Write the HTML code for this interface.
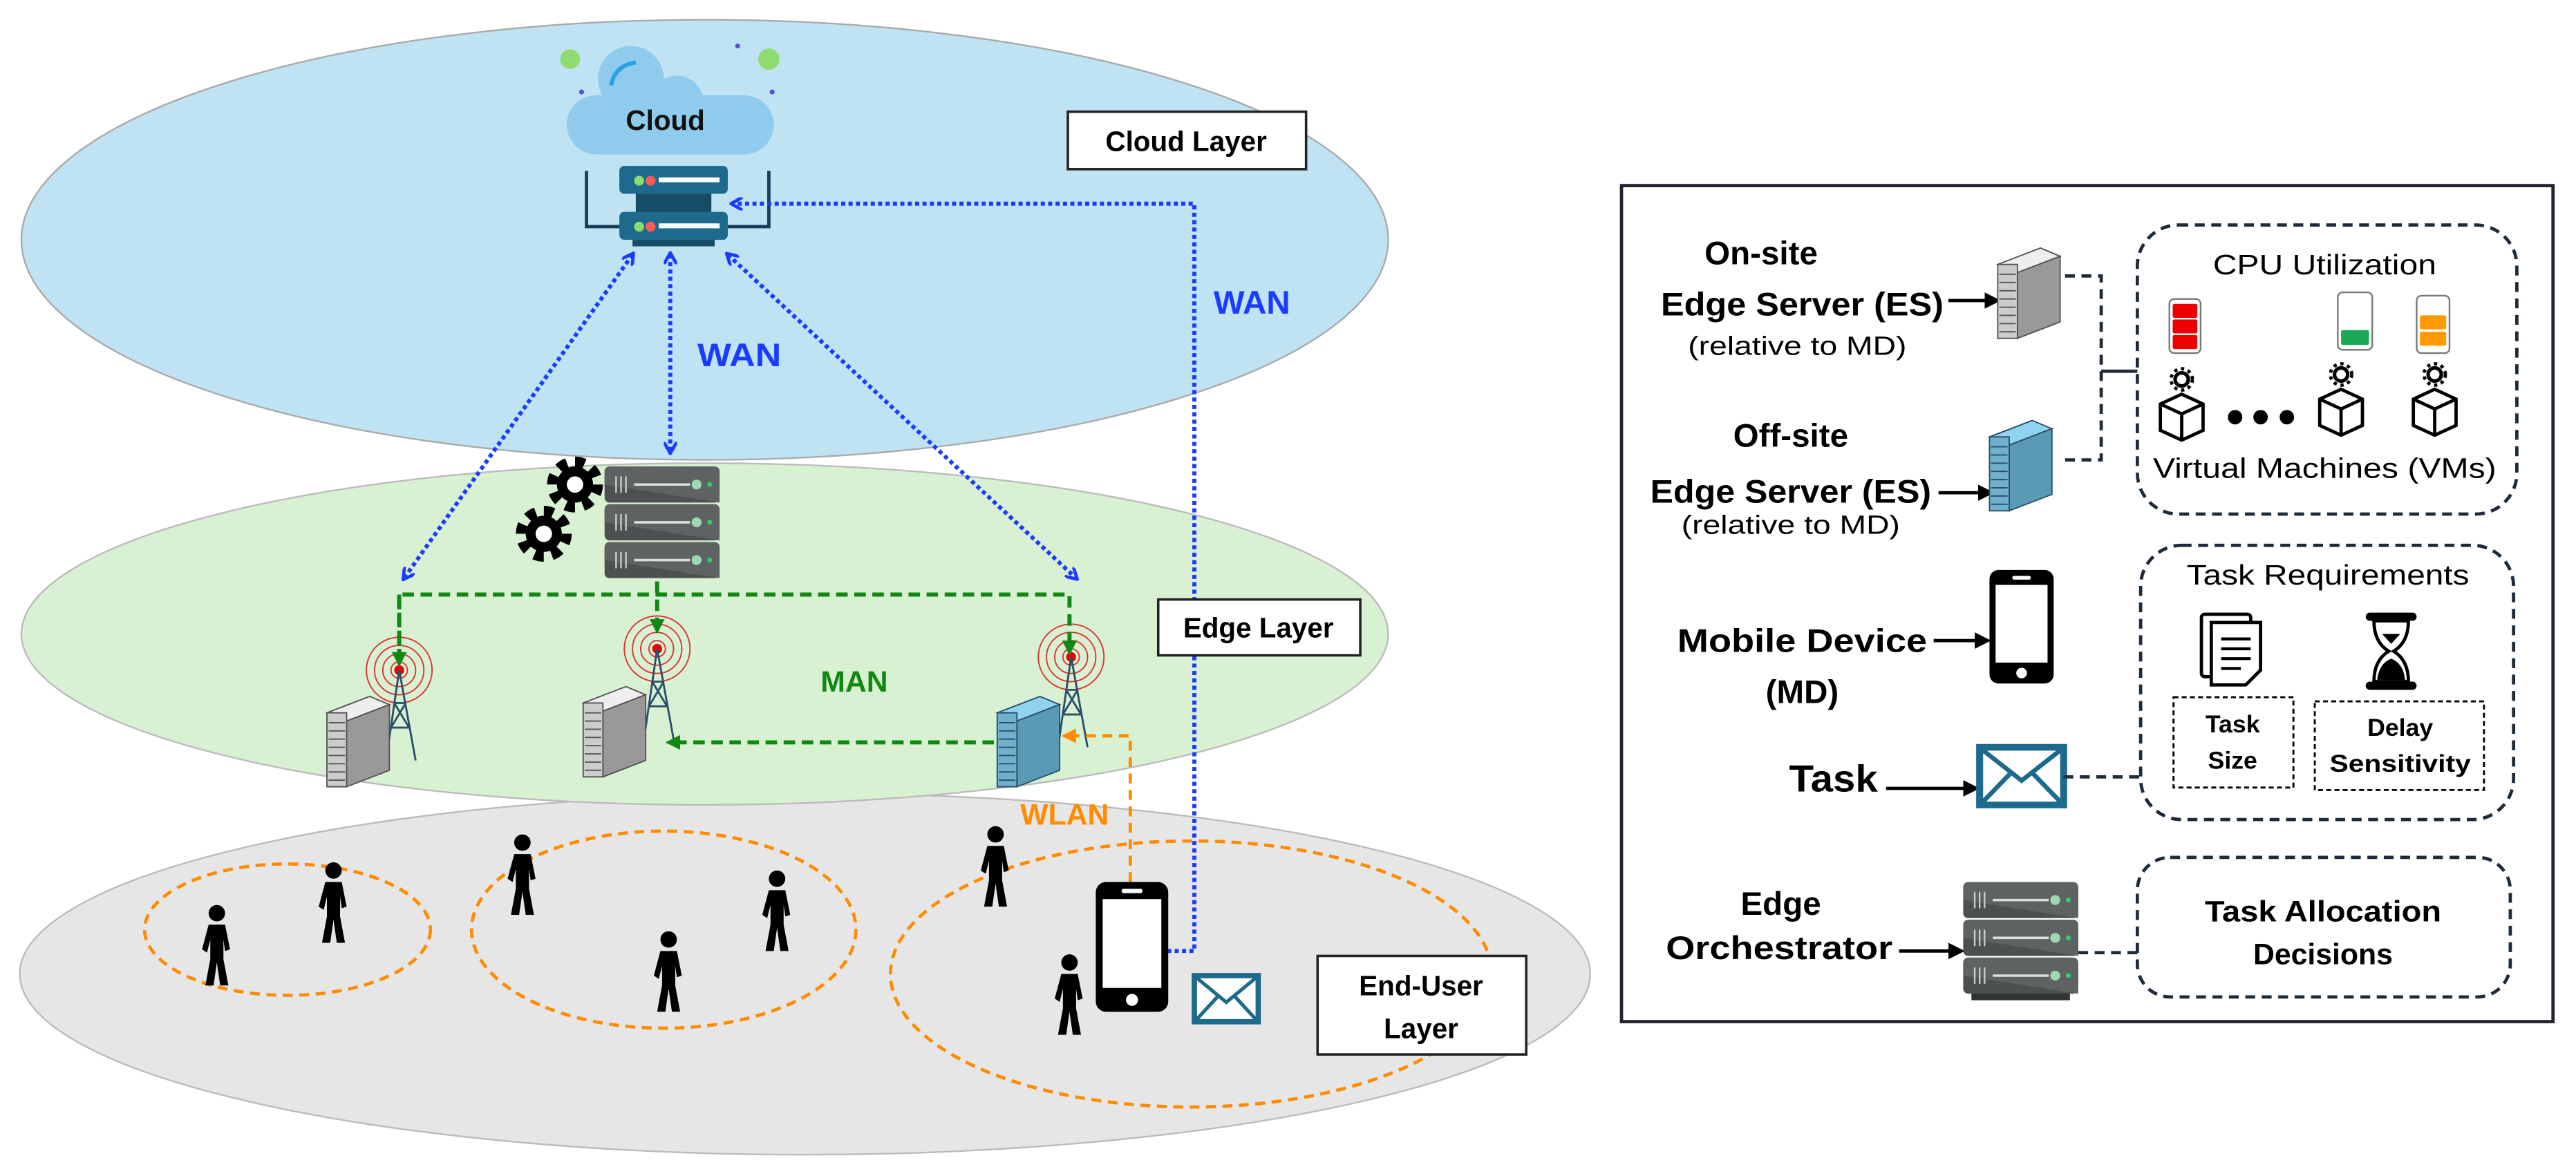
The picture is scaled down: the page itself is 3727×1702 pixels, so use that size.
<!DOCTYPE html>
<html><head><meta charset="utf-8"><style>
html,body{margin:0;padding:0;background:#fff;}
svg{display:block;}
text{font-family:"Liberation Sans",sans-serif;}
</style></head><body>
<svg width="3727" height="1702" viewBox="0 0 1568 716" preserveAspectRatio="none" xmlns="http://www.w3.org/2000/svg">
<defs>
<marker id="ab" markerWidth="8" markerHeight="8" refX="6" refY="4" orient="auto-start-reverse" markerUnits="userSpaceOnUse"><path d="M0,0 L7,4 L0,8" fill="none" stroke="#1a3cff" stroke-width="2"/></marker>
<marker id="ag" markerWidth="9" markerHeight="9" refX="7" refY="4.5" orient="auto" markerUnits="userSpaceOnUse"><path d="M0,0 L9,4.5 L0,9z" fill="#118811"/></marker>
<marker id="ao" markerWidth="9" markerHeight="9" refX="7" refY="4.5" orient="auto" markerUnits="userSpaceOnUse"><path d="M0,0 L9,4.5 L0,9z" fill="#ff8c00"/></marker>
<marker id="ak" markerWidth="10" markerHeight="10" refX="8" refY="5" orient="auto" markerUnits="userSpaceOnUse"><path d="M0,0 L10,5 L0,10z" fill="#000"/></marker>
<g id="person"><circle cx="0" cy="-22" r="5" fill="#000"/><path d="M-5,-15 L5,-15 L8,0 L5,1 L4,-6 L4,6 L7,22 L2,22 L0,8 L-2,22 L-7,22 L-4,6 L-4,-6 L-6,2 L-9,0z" fill="#000"/></g>
<g id="srvG"><path d="M0,10 L26,0 L38,5 L12,15z" fill="#eee" stroke="#555" stroke-width="0.8"/><path d="M12,15 L38,5 L38,45 L12,55z" fill="#999" stroke="#555" stroke-width="0.8"/><rect x="0" y="10" width="12" height="45" fill="#ccc" stroke="#555" stroke-width="0.8"/><path d="M1,16h10M1,21h10M1,26h10M1,31h10M1,36h10M1,41h10M1,46h10M1,51h10" stroke="#555" stroke-width="0.8"/></g>
<g id="srvB"><path d="M0,10 L26,0 L38,5 L12,15z" fill="#8fd3f0" stroke="#2a4f6a" stroke-width="0.8"/><path d="M12,15 L38,5 L38,45 L12,55z" fill="#5a9ab5" stroke="#2a4f6a" stroke-width="0.8"/><rect x="0" y="10" width="12" height="45" fill="#6fb0cc" stroke="#2a4f6a" stroke-width="0.8"/><path d="M1,16h10M1,21h10M1,26h10M1,31h10M1,36h10M1,41h10M1,46h10M1,51h10" stroke="#2a4f6a" stroke-width="0.8"/></g>
<g id="tower"><circle r="5" fill="none" stroke="#d33" stroke-width="0.8"/><circle r="10" fill="none" stroke="#d33" stroke-width="0.8"/><circle r="15" fill="none" stroke="#d33" stroke-width="0.8"/><circle r="20" fill="none" stroke="#d33" stroke-width="0.8"/><circle r="3" fill="#e00"/><path d="M0,0 L-8,55 M0,0 L10,55 M-3,20 L4,20 M-5,35 L6,35 M-3,20 L6,35 M4,20 L-5,35" stroke="#2a4f6a" stroke-width="1.2" fill="none"/></g>
<g id="slab"><rect width="70" height="22" rx="3" fill="#4d5050"/><path d="M0,11 L70,22 L70,4 Q70,0 66,0 L4,0 Q0,0 0,4z" fill="#5f6262"/><path d="M7,6v10M10,6v10M13,6v10" stroke="#ccc" stroke-width="1"/><path d="M18,11h34" stroke="#ddd" stroke-width="1.5"/><circle cx="56" cy="11" r="3" fill="#9ed8b0"/><circle cx="64" cy="11" r="1.5" fill="#3c6"/></g>
<g id="gear"><circle r="13" fill="none" stroke="#000" stroke-width="8" stroke-dasharray="5.5 4.7"/><circle r="11" fill="#000"/><circle r="5" fill="#fff"/></g>
<g id="phone"><rect x="0" y="0" width="42" height="76" rx="6" fill="#000"/><rect x="4" y="10" width="34" height="52" fill="#fff"/><rect x="15" y="4" width="12" height="2.5" rx="1" fill="#fff"/><circle cx="21" cy="69" r="3.5" fill="#fff"/></g>
<g id="env"><rect x="0" y="0" width="36" height="26" fill="#fff" stroke="#1e6a8c" stroke-width="3"/><path d="M1,1 L18,15 L35,1 M1,25 L13,12 M35,25 L23,12" fill="none" stroke="#1e6a8c" stroke-width="2"/></g>
<g id="vm"><path d="M0,-6 L13,0 L13,16 L0,22 L-13,16 L-13,0z M-13,0 L0,6 L13,0 M0,6 L0,22" fill="#fff" stroke="#000" stroke-width="2"/><circle cx="0" cy="-15" r="4" fill="none" stroke="#000" stroke-width="2.2"/><circle cx="0" cy="-15" r="6.5" fill="none" stroke="#000" stroke-width="2" stroke-dasharray="2 2.3"/></g>
</defs>

<ellipse cx="490" cy="593" rx="478" ry="110" fill="#e6e6e6" stroke="#bbb" stroke-width="1"/>
<ellipse cx="429" cy="386" rx="416" ry="104" fill="#d9f1d3" stroke="#bbb" stroke-width="1"/>
<ellipse cx="429" cy="146" rx="416" ry="134" fill="#bfe3f3" stroke="#aaa" stroke-width="1"/>

<circle cx="347" cy="36" r="6" fill="#8fdc6e"/><circle cx="468" cy="36" r="6.5" fill="#8fdc6e"/>
<circle cx="354" cy="56" r="1.5" fill="#5a4fd8"/><circle cx="470" cy="56" r="1.5" fill="#5a4fd8"/><circle cx="449" cy="28" r="1.5" fill="#5a4fd8"/>
<circle cx="384" cy="48" r="20" fill="#8ecbec"/><circle cx="412" cy="62" r="16" fill="#8ecbec"/>
<rect x="345" y="58" width="126" height="36" rx="18" fill="#8ecbec"/>
<path d="M372,52 Q374,40 387,38" stroke="#2aa1e0" stroke-width="2.5" fill="none"/>
<text x="405" y="79" font-size="17" font-weight="bold" text-anchor="middle" fill="#111">Cloud</text>
<path d="M357,104 V138 H468 V104" fill="none" stroke="#163d57" stroke-width="2"/>
<rect x="377" y="101" width="66" height="17" rx="3" fill="#1e6a8c"/><rect x="387" y="118" width="46" height="12" fill="#164d66"/>
<rect x="377" y="129" width="66" height="17" rx="3" fill="#1e6a8c"/><rect x="385" y="146" width="50" height="4" fill="#164d66"/>
<circle cx="389" cy="110" r="3" fill="#8fdc6e"/><circle cx="396" cy="110" r="3" fill="#ff5a5a"/><rect x="401" y="108" width="37" height="3" fill="#fff"/>
<circle cx="389" cy="138" r="3" fill="#8fdc6e"/><circle cx="396" cy="138" r="3" fill="#ff5a5a"/><rect x="401" y="136" width="37" height="3" fill="#fff"/>

<g stroke="#1a3cff" stroke-width="2.5" stroke-dasharray="2.5 2" fill="none">
<line x1="385" y1="155" x2="246" y2="352" marker-start="url(#ab)" marker-end="url(#ab)"/>
<line x1="408" y1="155" x2="408" y2="275" marker-start="url(#ab)" marker-end="url(#ab)"/>
<line x1="443" y1="155" x2="655" y2="352" marker-start="url(#ab)" marker-end="url(#ab)"/>
<path d="M706,579 H727 V124 H446" marker-end="url(#ab)"/>
</g>
<text x="450" y="223" font-size="20" font-weight="bold" text-anchor="middle" fill="#1a3cff" textLength="51" lengthAdjust="spacingAndGlyphs">WAN</text>
<text x="762" y="191" font-size="20" font-weight="bold" text-anchor="middle" fill="#1a3cff">WAN</text>

<rect x="650" y="68" width="145" height="35" fill="#fff" stroke="#222" stroke-width="1.5"/>
<text x="722" y="92" font-size="17" font-weight="bold" text-anchor="middle">Cloud Layer</text>

<use href="#gear" x="350" y="295"/><use href="#gear" x="331" y="325"/>
<use href="#slab" x="368" y="284"/><use href="#slab" x="368" y="307"/><use href="#slab" x="368" y="330"/>
<use href="#tower" x="243" y="408"/><use href="#tower" x="400" y="395"/><use href="#tower" x="652" y="400"/>
<use href="#srvG" x="199" y="424"/><use href="#srvG" x="355" y="418"/><use href="#srvB" x="607" y="424"/>
<g stroke="#118811" stroke-width="2.5" stroke-dasharray="7 4" fill="none">
<path d="M400,354 V384" marker-end="url(#ag)"/>
<path d="M243,404 V362 H651 V397" marker-end="url(#ag)"/>
<path d="M243,362 V404" marker-end="url(#ag)"/>
<path d="M605,452 H407" marker-end="url(#ag)"/>
</g>
<text x="520" y="421" font-size="18" font-weight="bold" text-anchor="middle" fill="#118811">MAN</text>
<rect x="705" y="365" width="123" height="34" fill="#fff" stroke="#222" stroke-width="1.5"/>
<text x="766" y="388" font-size="17" font-weight="bold" text-anchor="middle">Edge Layer</text>

<g stroke="#ff8c00" stroke-width="2" stroke-dasharray="6 4" fill="none">
<ellipse cx="175" cy="566" rx="87" ry="40"/>
<ellipse cx="404" cy="566" rx="117" ry="60"/>
<ellipse cx="725" cy="593" rx="183" ry="81"/>
<path d="M688,537 V448 H648" marker-end="url(#ao)"/>
</g>
<text x="648" y="502" font-size="18" font-weight="bold" text-anchor="middle" fill="#ff8c00">WLAN</text>
<use href="#phone" x="667" y="537" transform="translate(667 537) scale(1.05 1.04) translate(-667 -537)"/>
<use href="#env" x="727" y="594" transform="translate(727 594) scale(1.08 1.08) translate(-727 -594)"/>
<use href="#person" x="132" y="578"/><use href="#person" x="203" y="552"/><use href="#person" x="318" y="535"/>
<use href="#person" x="407" y="594"/><use href="#person" x="473" y="557"/><use href="#person" x="606" y="530"/><use href="#person" x="651" y="608"/>
<rect x="802" y="582" width="127" height="60" fill="#fff" stroke="#222" stroke-width="1.5"/>
<text x="865" y="606" font-size="17" font-weight="bold" text-anchor="middle">End-User</text>
<text x="865" y="632" font-size="17" font-weight="bold" text-anchor="middle">Layer</text>

<rect x="987" y="113" width="567" height="509" fill="#fff" stroke="#223" stroke-width="2"/>
<g font-weight="bold" text-anchor="middle" font-size="20" fill="#000">
<text x="1072" y="161">On-site</text>
<text x="1097" y="192" textLength="172" lengthAdjust="spacingAndGlyphs">Edge Server (ES)</text>
<text x="1090" y="272">Off-site</text>
<text x="1090" y="306" textLength="171" lengthAdjust="spacingAndGlyphs">Edge Server (ES)</text>
<text x="1097" y="397" textLength="152" lengthAdjust="spacingAndGlyphs">Mobile Device</text>
<text x="1097" y="428">(MD)</text>
<text x="1116" y="482" font-size="23" textLength="54" lengthAdjust="spacingAndGlyphs">Task</text>
<text x="1084" y="557">Edge</text>
<text x="1083" y="584" textLength="138" lengthAdjust="spacingAndGlyphs">Orchestrator</text>
</g>
<text x="1094" y="216" font-size="16" text-anchor="middle" textLength="133" lengthAdjust="spacingAndGlyphs">(relative to MD)</text>
<text x="1090" y="325" font-size="16" text-anchor="middle" textLength="133" lengthAdjust="spacingAndGlyphs">(relative to MD)</text>
<g stroke="#000" stroke-width="2">
<line x1="1186" y1="183" x2="1216" y2="183" marker-end="url(#ak)"/>
<line x1="1180" y1="300" x2="1212" y2="300" marker-end="url(#ak)"/>
<line x1="1177" y1="390" x2="1210" y2="390" marker-end="url(#ak)"/>
<line x1="1148" y1="480" x2="1203" y2="480" marker-end="url(#ak)"/>
<line x1="1156" y1="579" x2="1194" y2="579" marker-end="url(#ak)"/>
</g>
<use href="#srvG" x="1216" y="151"/>
<use href="#srvB" x="1211" y="256"/>
<use href="#phone" x="1211" y="347" transform="translate(1211 347) scale(0.93 0.91) translate(-1211 -347)"/>
<use href="#env" x="1205" y="455" transform="translate(1205 455) scale(1.42 1.35) translate(-1205 -455)"/>
<rect x="1200" y="602" width="60" height="7" fill="#2e3333"/>
<use href="#slab" x="1195" y="537"/>
<use href="#slab" x="1195" y="560"/>
<use href="#slab" x="1195" y="583"/>

<g stroke="#1d2b3a" stroke-width="2" stroke-dasharray="6 4" fill="none">
<path d="M1257,168 H1279 V280 H1257"/>
<path d="M1256,473 H1303"/>
<path d="M1265,580 H1301"/>
<rect x="1301" y="137" width="231" height="176" rx="25"/>
<rect x="1303" y="332" width="227" height="167" rx="25"/>
<rect x="1301" y="522" width="227" height="85" rx="20"/>
</g>
<line x1="1279" y1="226" x2="1301" y2="226" stroke="#1d2b3a" stroke-width="2"/>
<text x="1415" y="167" font-size="17" text-anchor="middle" textLength="136" lengthAdjust="spacingAndGlyphs">CPU Utilization</text>
<text x="1415" y="291" font-size="17" text-anchor="middle" textLength="209" lengthAdjust="spacingAndGlyphs">Virtual Machines (VMs)</text>
<rect x="1320.5" y="182" width="19" height="33" rx="3" fill="#fff" stroke="#777"/>
<rect x="1322.5" y="185" width="15" height="8.5" rx="1" fill="#e00"/><rect x="1322.5" y="194.5" width="15" height="8.5" rx="1" fill="#e00"/><rect x="1322.5" y="204" width="15" height="8.5" rx="1" fill="#e00"/>
<rect x="1423" y="178" width="21" height="35" rx="3" fill="#fff" stroke="#777"/><rect x="1425" y="201" width="17" height="9" rx="1" fill="#1aaa55"/>
<rect x="1471" y="180" width="20" height="35" rx="3" fill="#fff" stroke="#777"/><rect x="1473" y="192" width="16" height="8.5" rx="1" fill="#f90"/><rect x="1473" y="202" width="16" height="8.5" rx="1" fill="#f90"/>
<use href="#vm" x="1328" y="246"/><use href="#vm" x="1425" y="243"/><use href="#vm" x="1482" y="243"/>
<circle cx="1360.5" cy="254" r="4.4" fill="#000"/><circle cx="1376" cy="254" r="4.4" fill="#000"/><circle cx="1392" cy="254" r="4.4" fill="#000"/>

<text x="1417" y="356" font-size="17" text-anchor="middle" textLength="172" lengthAdjust="spacingAndGlyphs">Task Requirements</text>
<rect x="1340" y="374" width="30" height="38" rx="2" fill="#fff" stroke="#000" stroke-width="2"/>
<path d="M1346,379 H1376 V408 L1367,417 H1346z" fill="#fff" stroke="#000" stroke-width="2"/>
<path d="M1352,389h18M1352,395h18M1352,401h18M1352,407h12" stroke="#000" stroke-width="1.8"/>
<rect x="1440" y="373" width="31" height="5" rx="2.5" fill="#000"/><rect x="1440" y="415" width="31" height="5" rx="2.5" fill="#000"/>
<path d="M1445,378 L1466,378 Q1466,391 1457,396.5 Q1466,402 1466,415 L1445,415 Q1445,402 1454,396.5 Q1445,391 1445,378z" fill="#fff" stroke="#000" stroke-width="2"/>
<path d="M1447,414 Q1448,404 1455.5,401 Q1463,404 1464,414z" fill="#000"/>
<path d="M1450,386 H1461 L1455.5,392z" fill="#000"/>
<g stroke="#000" stroke-width="1.2" stroke-dasharray="3 2" fill="none">
<rect x="1323" y="424.5" width="73" height="55"/>
<rect x="1409" y="427" width="103" height="54"/>
</g>
<g font-weight="bold" font-size="15" text-anchor="middle">
<text x="1359" y="446">Task</text><text x="1359" y="468">Size</text>
<text x="1461" y="448">Delay</text><text x="1461" y="470" textLength="86" lengthAdjust="spacingAndGlyphs">Sensitivity</text>
<text x="1414" y="561" font-size="18" textLength="144" lengthAdjust="spacingAndGlyphs">Task Allocation</text>
<text x="1414" y="587" font-size="18">Decisions</text>
</g>
</svg>
</body></html>
